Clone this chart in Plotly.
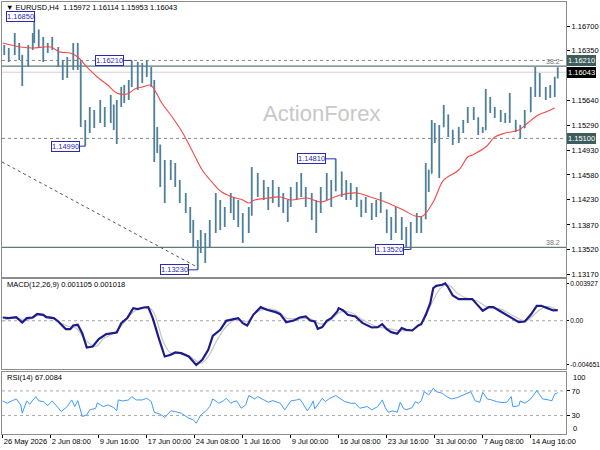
import plotly.graph_objects as go

# ---------------- data ----------------
symbol_header = "EURUSD,H4  1.15972 1.16114 1.15953 1.16043"
macd_header = "MACD(12,26,9) 0.001105 0.001018"
rsi_header = "RSI(14) 67.0084"

# H4 bar index (0 = 26 May 2026 00:00)
bar_idx = [1, 4, 8, 11, 13, 17, 20, 21, 24, 27, 30, 33, 37, 40, 43, 47, 50, 52, 55, 58, 61, 65, 68, 72, 74, 76, 79, 81, 84, 86, 90,
           93, 96, 99, 101, 103, 105, 108, 112, 115, 118, 122, 125, 127, 130, 132, 135, 138, 142, 145, 148, 152, 154, 157, 160, 164, 166, 170, 174, 177, 180,
           184, 187, 190, 192, 196, 199, 202, 206, 209, 212, 216, 219, 222, 226, 229, 232, 236, 239, 242, 246, 249, 252, 256, 259, 262, 266, 269,
           272, 276, 279, 282, 284, 286, 288, 291, 294, 297, 300, 304, 307, 310, 314, 317, 320, 322, 325, 328, 332, 335, 338, 342, 345, 348, 352, 355, 358, 362, 365, 368, 370]

opens = [1.16330, 1.16358, 1.16330, 1.16430, 1.16287, 1.16145, 1.16387, 1.16529, 1.16643, 1.16472,
         1.16358, 1.16401, 1.16387, 1.16188, 1.16045, 1.16145, 1.16287, 1.16188, 1.15334, 1.15220,
         1.15391, 1.15362, 1.15533, 1.15434, 1.15576, 1.15334, 1.15600, 1.15718, 1.15761, 1.15860,
         1.16074,
         1.15960, 1.16074, 1.16102, 1.15903, 1.14935, 1.15007, 1.14651, 1.14580, 1.14679, 1.14480,
         1.14252, 1.14110, 1.13826, 1.13626, 1.13512, 1.13655, 1.13584, 1.13797, 1.14153, 1.14011,
         1.14053, 1.14153, 1.14053, 1.13939, 1.13868, 1.14011, 1.14509, 1.14437, 1.14366, 1.14295,
         1.14366, 1.14267, 1.14153, 1.14181, 1.14366, 1.14437, 1.14366, 1.14224, 1.14053, 1.14153,
         1.14295, 1.14437, 1.14366, 1.14622, 1.14437, 1.14366, 1.14338, 1.14224, 1.14110, 1.14153,
         1.14082, 1.14153, 1.14082, 1.13868, 1.13797, 1.13968, 1.13769,
         1.13683, 1.13868, 1.13911, 1.13960, 1.14651, 1.14600, 1.15220, 1.15149, 1.15263, 1.15434,
         1.15220, 1.15106, 1.15220, 1.15334, 1.15476, 1.15391, 1.15220, 1.15220, 1.15675, 1.15533,
         1.15476, 1.15434, 1.15391, 1.15362, 1.15249, 1.15249, 1.15476, 1.15718, 1.15932, 1.15789,
         1.15718, 1.15789, 1.15972]

highs = [1.16430, 1.16387, 1.16600, 1.16458, 1.16287, 1.16430, 1.16600, 1.16850, 1.16650, 1.16543,
         1.16458, 1.16543, 1.16400, 1.16216, 1.16259, 1.16458, 1.16458, 1.16200, 1.15362, 1.15547,
         1.15505, 1.15647, 1.15547, 1.15718, 1.15580, 1.15647, 1.15832, 1.15860, 1.15932, 1.16210,
         1.16188,
         1.16174, 1.16210, 1.16117, 1.15932, 1.15263, 1.15010, 1.14793, 1.14793, 1.14751, 1.14509,
         1.14324, 1.14124, 1.13939, 1.13655, 1.13797, 1.13754, 1.13939, 1.14324, 1.14224, 1.14124,
         1.14324, 1.14267, 1.14224, 1.14039, 1.14124, 1.14694, 1.14608, 1.14509, 1.14409, 1.14509,
         1.14409, 1.14324, 1.14224, 1.14409, 1.14480, 1.14608, 1.14409, 1.14324, 1.14224, 1.14409,
         1.14608, 1.14509, 1.14810, 1.14630, 1.14509, 1.14466, 1.14409, 1.14224, 1.14267, 1.14181,
         1.14224, 1.14338, 1.14090, 1.13982, 1.14124, 1.13982, 1.13840,
         1.13911, 1.14039, 1.13982, 1.14751, 1.14651, 1.15362, 1.15320, 1.15291, 1.15576, 1.15440,
         1.15220, 1.15263, 1.15362, 1.15547, 1.15547, 1.15400, 1.15263, 1.15804, 1.15690, 1.15547,
         1.15505, 1.15462, 1.15747, 1.15362, 1.15291, 1.15505, 1.15832, 1.16117, 1.16031, 1.15832,
         1.15860, 1.15974, 1.16114]

lows = [1.16287, 1.16188, 1.16287, 1.16216, 1.15846, 1.16117, 1.16358, 1.16458, 1.16401, 1.16188,
        1.16316, 1.16358, 1.16117, 1.15932, 1.15960, 1.16074, 1.16074, 1.15263, 1.14990, 1.15177,
        1.15249, 1.15320, 1.15263, 1.15320, 1.15220, 1.15021, 1.15547, 1.15604, 1.15647, 1.15832,
        1.15789,
        1.15889, 1.15974, 1.15832, 1.14765, 1.14893, 1.14409, 1.14181, 1.14509, 1.14409, 1.14181,
        1.14039, 1.13754, 1.13541, 1.13230, 1.13470, 1.13328, 1.13541, 1.13754, 1.13797, 1.13840,
        1.14039, 1.13939, 1.13840, 1.13612, 1.13754, 1.14000, 1.14267, 1.14224, 1.14082, 1.14181,
        1.14124, 1.14039, 1.13911, 1.14124, 1.14224, 1.14267, 1.14124, 1.13939, 1.13754, 1.14039,
        1.14224, 1.14124, 1.14350, 1.14267, 1.14224, 1.14224, 1.14124, 1.13982, 1.14039, 1.13939,
        1.13982, 1.14039, 1.13754, 1.13655, 1.13754, 1.13655, 1.13555,
        1.13520, 1.13754, 1.13754, 1.13950, 1.14338, 1.14600, 1.15035, 1.14537, 1.15263, 1.15120,
        1.15007, 1.15035, 1.15177, 1.15320, 1.15362, 1.15149, 1.15177, 1.15220, 1.15462, 1.15391,
        1.15334, 1.15320, 1.15320, 1.15192, 1.15100, 1.15249, 1.15476, 1.15690, 1.15690, 1.15647,
        1.15675, 1.15690, 1.15953]

closes = [1.16358, 1.16330, 1.16430, 1.16287, 1.16145, 1.16387, 1.16529, 1.16643, 1.16472, 1.16358,
          1.16401, 1.16387, 1.16188, 1.16045, 1.16145, 1.16287, 1.16188, 1.15334, 1.15220, 1.15391,
          1.15362, 1.15533, 1.15434, 1.15576, 1.15334, 1.15600, 1.15718, 1.15761, 1.15860, 1.16074,
          1.15960,
          1.16074, 1.16102, 1.15903, 1.14935, 1.15007, 1.14651, 1.14580, 1.14679, 1.14480, 1.14252,
          1.14110, 1.13826, 1.13626, 1.13512, 1.13655, 1.13584, 1.13797, 1.14153, 1.14011, 1.14053,
          1.14153, 1.14053, 1.13939, 1.13868, 1.14011, 1.14509, 1.14437, 1.14366, 1.14295, 1.14366,
          1.14267, 1.14153, 1.14181, 1.14366, 1.14437, 1.14366, 1.14224, 1.14053, 1.14153, 1.14295,
          1.14437, 1.14366, 1.14622, 1.14437, 1.14366, 1.14338, 1.14224, 1.14110, 1.14153, 1.14082,
          1.14153, 1.14082, 1.13868, 1.13797, 1.13968, 1.13769, 1.13683,
          1.13868, 1.13911, 1.13960, 1.14651, 1.14600, 1.15220, 1.15149, 1.15263, 1.15434, 1.15220,
          1.15106, 1.15220, 1.15334, 1.15476, 1.15391, 1.15220, 1.15220, 1.15675, 1.15533, 1.15476,
          1.15434, 1.15391, 1.15362, 1.15249, 1.15249, 1.15476, 1.15718, 1.15932, 1.15789, 1.15718,
          1.15789, 1.15972, 1.16043]

# moving average (red)
ma_idx = [0, 12, 20, 32, 38, 45, 50, 56, 63, 70, 76, 83, 88, 93, 98, 100, 106, 113, 120, 126,
          133, 140, 146, 153, 160, 164, 168, 177, 185, 192, 203, 212, 225, 236, 245, 255, 267, 275, 280, 287,
          294, 304, 310, 313, 322, 328, 335, 344, 350, 357, 362, 368]
ma_val = [1.16458, 1.16401, 1.16387, 1.16401, 1.16330, 1.16316, 1.16259, 1.16117, 1.15974, 1.15860,
          1.15747, 1.15732, 1.15804, 1.15832, 1.15860, 1.15832, 1.15604, 1.15405, 1.15177, 1.14935,
          1.14651, 1.14466, 1.14338, 1.14267, 1.14224, 1.14181, 1.14224, 1.14252, 1.14267, 1.14224,
          1.14252, 1.14196, 1.14295, 1.14324, 1.14267, 1.14196, 1.14082, 1.13996, 1.13996, 1.14196,
          1.14509, 1.14651, 1.14836, 1.14864, 1.14978, 1.15120, 1.15177, 1.15220, 1.15320, 1.15434,
          1.15476, 1.15533]

# MACD main line
macd_idx = [0, 4, 9, 13, 16, 20, 23, 27, 29, 34, 37, 42, 45, 47, 50, 53, 56, 60, 64, 69,
            76, 79, 83, 87, 90, 94, 97, 100, 104, 108, 112, 115, 119, 124, 129, 133, 137, 140, 145, 149,
            154, 157, 160, 163, 167, 172, 176, 182, 185, 189, 194, 198,
            202, 205, 208, 210, 213, 216, 219, 223, 224, 227, 230, 235, 240, 246, 250, 253, 256, 259,
            263, 266, 269, 273, 277, 279, 282, 285, 287, 289, 293, 295, 297, 300, 304, 308, 313, 316, 320, 324,
            327, 332, 335, 339, 344, 348, 352, 356, 359, 363, 367, 370]
macd_val = [0.000340, 0.000270, 0.000375, -0.000186, 0.000270, 0.000340, 0.000725, 0.000620, 0.000375, 0.000270,
            -0.000081, -0.000886, -0.000886, -0.000501, -0.000431, -0.001306, -0.002811, -0.002706, -0.001936, -0.001411,
            -0.001236, -0.000256, 0.000270, 0.001320, 0.001215, 0.001390, 0.001425, 0.000270, -0.001831, -0.003756,
            -0.003581, -0.003336, -0.003406, -0.003756, -0.004651, -0.004106, -0.003056, -0.001586, -0.000956, -0.000011,
            0.000165, 0.000270, -0.000256, -0.000501, 0.000620, 0.001425, 0.001145, 0.000900, 0.000690, -0.000151,
            0.000025, 0.000340,
            0.000445, 0.000025, -0.000081, -0.000851, -0.000676, -0.000011, 0.000270, 0.000970, 0.001320, 0.001075,
            0.000620, 0.000445, -0.000256, -0.000711, -0.000676, -0.000361, -0.000886, -0.001201, -0.001376, -0.000781,
            -0.000956, -0.001026, -0.000501, -0.000361, 0.000620, 0.001845, 0.003420, 0.003665, 0.003770, 0.003927,
            0.003490, 0.002650, 0.002265, 0.002265, 0.002265, 0.001740, 0.001040, 0.001425, 0.001425, 0.000970,
            0.000690, 0.000375, -0.000151, -0.000081, 0.000620, 0.001565, 0.001565, 0.001320, 0.001075, 0.001105]

# MACD signal line
sig_idx = [0, 5, 12, 18, 24, 32, 38, 44, 49, 55, 62, 67, 74, 80, 87, 95, 100, 107, 112, 118,
           125, 132, 137, 143, 149, 155, 163, 169, 176, 183, 189, 196,
           205, 212, 218, 225, 232, 240, 249, 258, 265, 274, 280, 286, 292, 297, 303, 309, 316, 323,
           332, 340, 349, 356, 363, 370]
sig_val = [-0.000081, 0.000270, 0.000165, 0.000165, 0.000550, 0.000375, -0.000186, -0.000606, -0.000781, -0.002006,
           -0.002706, -0.001901, -0.001306, -0.000361, 0.000900, 0.001390, 0.001040, -0.002181, -0.003406, -0.003406,
           -0.003756, -0.004456, -0.003756, -0.002006, -0.000606, 0.000095, -0.000081, 0.000900, 0.001250, 0.001040,
           0.000270, 0.000200,
           0.000200, -0.000361, -0.000011, 0.000900, 0.000865, 0.000095, -0.000606, -0.000851, -0.001061, -0.000886,
           -0.000081, 0.001845, 0.003420, 0.003770, 0.002895, 0.002370, 0.002090, 0.001425, 0.001215, 0.000550,
           -0.000011, 0.000900, 0.001495, 0.001018]

# RSI(14)
rsi_idx = [0, 3, 6, 9, 12, 13, 16, 18, 22, 24, 27, 30, 33, 36, 39, 43, 46, 48, 50, 53,
           56, 58, 62, 63, 67, 70, 74, 76, 77, 80, 84, 86, 89, 93, 96, 99, 101, 105, 108, 112,
           115, 119, 124, 127, 129, 132, 135, 138, 140, 144, 147, 149, 152, 154, 156, 159, 162, 164, 168, 170,
           174, 177, 180, 185, 188, 192, 196, 198,
           200, 203, 205, 207, 208, 210, 213, 215, 218, 222, 225, 228, 232, 235, 238, 243, 246, 250, 253, 255,
           257, 260, 263, 265, 267, 269, 273, 275, 277, 279, 281, 284, 287, 289, 293, 296, 299, 303, 307, 312,
           315, 318, 320, 323, 326, 329, 333, 336, 339, 340, 344, 345, 348, 352, 356, 358, 360, 364, 366, 368, 370]
rsi_val = [53.8, 50.0, 53.8, 57.0, 47.3, 33.8, 53.8, 48.4, 60.8, 53.8, 52.7, 46.2, 53.8, 44.6, 36.5, 44.6, 55.4, 44.6, 54.3, 28.4,
           31.1, 39.2, 41.9, 50.6, 44.6, 47.3, 43.0, 37.6, 55.4, 53.8, 55.4, 60.8, 55.4, 55.4, 58.1, 52.7, 35.4, 32.2, 26.8, 37.6,
           36.5, 33.8, 25.7, 23.0, 17.6, 31.1, 36.5, 44.6, 57.0, 50.0, 53.8, 58.1, 50.0, 52.7, 53.8, 41.9, 47.3, 62.5, 57.0, 60.8,
           55.4, 51.6, 54.3, 50.0, 39.2, 53.8, 55.4, 57.0,
           50.0, 37.6, 44.6, 53.8, 40.8, 47.3, 58.1, 52.7, 58.1, 62.5, 57.0, 52.7, 50.0, 50.0, 41.9, 44.6, 39.2, 44.6, 55.4, 43.0,
           35.4, 37.6, 35.4, 51.6, 41.9, 39.2, 43.0, 52.7, 50.0, 53.8, 68.9, 63.5, 74.3, 68.9, 66.2, 60.8, 57.0, 59.2, 63.5, 68.9,
           53.8, 51.6, 67.8, 57.0, 55.4, 52.7, 51.1, 51.6, 60.8, 44.6, 45.7, 53.8, 50.0, 57.0, 70.5, 64.6, 57.0, 55.4, 53.8, 65.2, 67.0]

# analyst drawings / levels
trend_idx = [-0.5, 129.5]
trend_price = [1.14765, 1.13271]
dotted_levels = [1.16210, 1.15100]
fib_levels = [1.16130, 1.13550]
fib_label = "38.2"
bid_price = 1.16043
swing_labels = [1.16850, 1.16210, 1.14990, 1.13230, 1.14810, 1.13520]
swing_bars = [21, 86, 55, 130, 222, 272]

price_ticks = [1.16700, 1.16350, 1.15640, 1.15290, 1.14930, 1.14580, 1.14230, 1.13870, 1.13520, 1.13170]
macd_ticks = [0.003927, 0.0, -0.004651]
macd_tick_text = ["0.003927", "0.00", "-0.004651"]
rsi_ticks = [70, 30]
rsi_edge_ticks = [100, 0]
rsi_levels = [70, 30]
date_ticks = [0, 32, 64, 96, 128, 160, 192, 224, 256, 288, 320, 352]
date_labels = ["26 May 2026", "2 Jun 08:00", "9 Jun 16:00", "17 Jun 00:00", "24 Jun 08:00", "1 Jul 16:00",
               "9 Jul 00:00", "16 Jul 08:00", "23 Jul 16:00", "31 Jul 00:00", "7 Aug 08:00", "14 Aug 16:00"]

# ---------------- style ----------------
FONT = "Liberation Sans, Arial, sans-serif"
BAR_C = "#4f7f99"
FRAME = "#8c8c8c"
LBL_BLUE = "#2b2bb0"
SLATE = "#3d5c5c"
TICKSZ = 7.5

fig = go.Figure()

fig.add_trace(go.Ohlc(x=bar_idx, open=opens, high=highs, low=lows, close=closes,
                      increasing=dict(line=dict(color=BAR_C, width=1.8)),
                      decreasing=dict(line=dict(color=BAR_C, width=1.8)),
                      tickwidth=0.3, xaxis="x", yaxis="y", hoverinfo="skip", showlegend=False))
fig.add_trace(go.Scatter(x=ma_idx, y=ma_val, mode="lines", line=dict(color="#f24a4a", width=1.1, shape="spline"),
                         xaxis="x", yaxis="y", hoverinfo="skip", showlegend=False))
fig.add_trace(go.Scatter(x=trend_idx, y=trend_price, mode="lines",
                         line=dict(color="#555555", width=1, dash="3px,3px"),
                         xaxis="x", yaxis="y", hoverinfo="skip", showlegend=False))

fig.add_trace(go.Scatter(x=sig_idx, y=sig_val, mode="lines", line=dict(color="#c4c4c4", width=1.2, shape="spline"),
                         xaxis="x2", yaxis="y2", hoverinfo="skip", showlegend=False))
fig.add_trace(go.Scatter(x=macd_idx, y=macd_val, mode="lines", line=dict(color="#1c1c8c", width=2.2),
                         xaxis="x2", yaxis="y2", hoverinfo="skip", showlegend=False))
fig.add_trace(go.Scatter(x=rsi_idx, y=rsi_val, mode="lines", line=dict(color="#3d9bff", width=1),
                         xaxis="x3", yaxis="y3", hoverinfo="skip", showlegend=False))

shapes = []
for lv in dotted_levels:
    shapes.append(dict(type="line", xref="x domain", yref="y", x0=0, x1=1, y0=lv, y1=lv,
                       line=dict(color="#8a8a8a", width=1, dash="3px,3px"), layer="below"))
shapes.append(dict(type="line", xref="x domain", yref="y", x0=0, x1=1, y0=bid_price, y1=bid_price,
                   line=dict(color="#d0d0d0", width=1), layer="below"))
for lv in fib_levels:
    shapes.append(dict(type="line", xref="x domain", yref="y", x0=0, x1=1, y0=lv, y1=lv,
                       line=dict(color="#5f7a7a", width=1.2), layer="below"))
shapes.append(dict(type="line", xref="x2 domain", yref="y2", x0=0, x1=1, y0=0, y1=0,
                   line=dict(color="#a8a8a8", width=1, dash="3px,3px"), layer="below"))
for lv in rsi_levels:
    shapes.append(dict(type="line", xref="x3 domain", yref="y3", x0=0, x1=1, y0=lv, y1=lv,
                       line=dict(color="#a8a8a8", width=1, dash="3px,3px"), layer="below"))

annotations = []
# swing-point price labels with connectors
box_right = {1.16850: 21.5, 1.16210: 81, 1.14990: 51.5, 1.13230: 124, 1.14810: 215.5, 1.13520: 267.5}
for val, bx in zip(swing_labels, swing_bars):
    right = box_right[val]
    if bx - right > 1:
        shapes.append(dict(type="line", xref="x", yref="y", x0=right, x1=bx, y0=val, y1=val,
                           line=dict(color=LBL_BLUE, width=1)))
    annotations.append(dict(x=right, y=val, xref="x", yref="y", xanchor="right", yanchor="middle",
                            yshift=-1 if val == 1.16850 else 0,
                            text=f"{val:.5f}", showarrow=False, bgcolor="white", bordercolor=LBL_BLUE,
                            borderwidth=1, borderpad=0, font=dict(family=FONT, size=7.5, color=LBL_BLUE)))

# right axis highlight boxes
for val, bg in [(1.16210, SLATE), (bid_price, "#000000"), (1.15100, SLATE)]:
    annotations.append(dict(x=1, y=val, xref="paper", yref="y", xanchor="left", yanchor="middle",
                            xshift=1, text=f"{val:.5f}", showarrow=False, bgcolor=bg, bordercolor=bg,
                            borderwidth=1, borderpad=0, font=dict(family=FONT, size=TICKSZ, color="white")))
for lv in fib_levels:
    annotations.append(dict(x=1, y=lv, xref="paper", yref="y", xanchor="right", yanchor="bottom",
                            xshift=-4, yshift=-1, text=fib_label, showarrow=False,
                            font=dict(family=FONT, size=7, color="#707070")))
# RSI scale end labels (drawn just inside the panel, as in the terminal)
for v, sh in zip(rsi_edge_ticks, [-5, 5]):
    annotations.append(dict(x=1, y=v, xref="paper", yref="y3", xanchor="left", yanchor="middle",
                            xshift=5, yshift=sh, text=str(v), showarrow=False,
                            font=dict(family=FONT, size=TICKSZ, color="#000000")))

annotations.append(dict(x=0.004, y=1.0, xref="paper", yref="paper", xanchor="left", yanchor="top",
                        yshift=1, text="▼ " + symbol_header, showarrow=False,
                        font=dict(family=FONT, size=7.5, color="#000000")))
annotations.append(dict(x=0.567, y=0.743, xref="paper", yref="paper", xanchor="center", yanchor="middle",
                        text="ActionForex", showarrow=False,
                        font=dict(family=FONT, size=22, color="#c8c8c8")))
annotations.append(dict(x=0.005, y=0.345, xref="paper", yref="paper", xanchor="left", yanchor="middle",
                        text=macd_header, showarrow=False, font=dict(family=FONT, size=7.5, color="#000000")))
annotations.append(dict(x=0.005, y=0.13, xref="paper", yref="paper", xanchor="left", yanchor="middle",
                        text=rsi_header, showarrow=False, font=dict(family=FONT, size=7.5, color="#000000")))

xcommon = dict(range=[-0.5, 375.5], showgrid=False, zeroline=False, showline=True, mirror=True,
               linecolor=FRAME, linewidth=1, fixedrange=True, automargin=False)
ycommon = dict(side="right", showgrid=False, zeroline=False, showline=True, mirror=True,
               linecolor=FRAME, linewidth=1, ticks="outside", ticklen=3, tickcolor="#000000",
               tickfont=dict(family=FONT, size=TICKSZ, color="#000000"), fixedrange=True, automargin=False)

fig.update_layout(
    template="none",
    width=600, height=450,
    margin=dict(l=2, r=34, t=2, b=16),
    paper_bgcolor="white", plot_bgcolor="white",
    showlegend=False, hovermode=False,
    xaxis=dict(**xcommon, anchor="y", showticklabels=False, ticks="", rangeslider=dict(visible=False)),
    xaxis2=dict(**xcommon, anchor="y2", matches="x", showticklabels=False, ticks=""),
    xaxis3=dict(**xcommon, anchor="y3", matches="x", tickvals=date_ticks, ticktext=date_labels,
                ticks="outside", ticklen=3, tickcolor="#000000", ticklabelposition="outside right",
                tickangle=0, tickfont=dict(family=FONT, size=TICKSZ, color="#000000")),
    yaxis=dict(**ycommon, anchor="x", domain=[0.3634, 1.0], range=[1.13128, 1.17042],
               tickvals=price_ticks, ticktext=[f"{v:.5f}" for v in price_ticks]),
    yaxis2=dict(**ycommon, anchor="x2", domain=[0.1505, 0.3588], range=[-0.00507, 0.00438],
                tickvals=macd_ticks, ticktext=macd_tick_text),
    yaxis3=dict(**ycommon, anchor="x3", domain=[0.0, 0.1435], range=[0, 100.8],
                tickvals=rsi_ticks, ticktext=[str(v) for v in rsi_ticks]),
    shapes=shapes,
    annotations=annotations,
)
fig.update_layout(yaxis2=dict(ticklen=2, ticklabelstandoff=0,
                              tickfont=dict(family=FONT, size=6.6, color="#000000")))

fig.write_html("out.html", config={"displayModeBar": False},
               post_script="document.body.style.margin='0';")
